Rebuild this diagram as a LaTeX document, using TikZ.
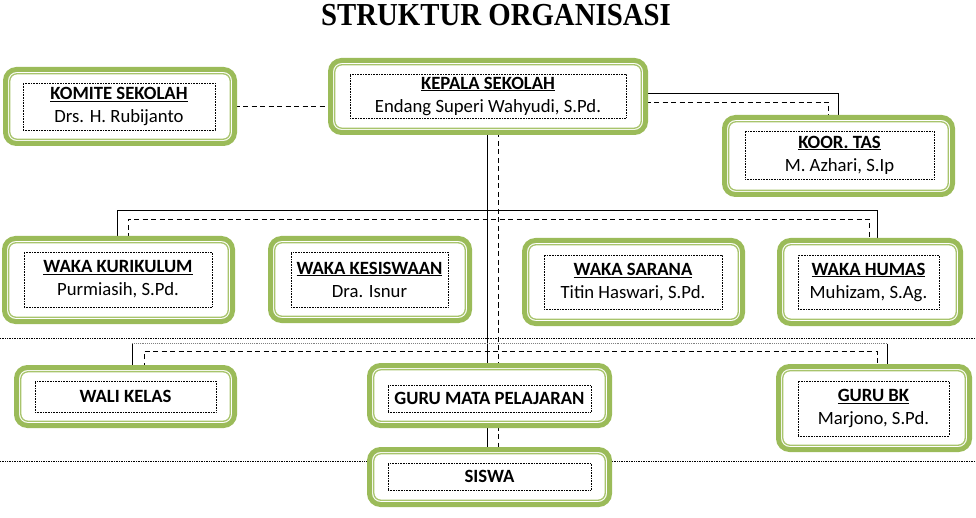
\documentclass[tikz,border=0pt]{standalone}
\usepackage{fontspec}
\setmainfont{Carlito}
\newfontfamily\titlefont{Liberation Serif}
\usetikzlibrary{fit,backgrounds}
\definecolor{gr}{HTML}{9BBB59}
\definecolor{grl}{HTML}{A8C46C}
\newcommand{\gbx}[5]{%
  \node[gouter, fit={(#2+2.5,#3+2.5)(#4-2.5,#5-2.5)}] (#1) {};
  \draw[ginner] ([shift={(4.3pt,4.3pt)}]#1.south west) rectangle ([shift={(-4.3pt,-4.3pt)}]#1.north east);}
\begin{document}
\begin{tikzpicture}[x=1pt,y=-1pt,
  gouter/.style={draw=gr, line width=5pt, rounded corners=11pt, fill=white, inner sep=0pt, outer sep=0pt},
  ginner/.style={draw=grl, line width=1.3pt, rounded corners=7pt},
  tb/.style={draw=black, densely dotted, line width=0.6pt, inner sep=0pt, align=center,
    font=\fontsize{18.7}{23}\selectfont, text=black},
  conn/.style={draw=black, line width=0.9pt},
  dsh/.style={draw=black, line width=0.9pt, dash pattern=on 5pt off 3.5pt},
  grayl/.style={draw=gray, line width=0.9pt, densely dotted},
  fullline/.style={draw=black, line width=0.7pt, densely dotted},
  ttl/.style={font=\titlefont\bfseries\fontsize{32}{36}\selectfont, inner sep=0pt, xscale=0.9}]
\useasboundingbox (0,0) rectangle (976,518);

% title
\node[ttl, anchor=base] (title) at (496,26) {STRUKTUR ORGANISASI};

% green boxes
\gbx{komite}{3}{67}{237}{146}
\gbx{kepala}{328}{58}{648}{135}
\gbx{koor}{722}{115}{955}{197}
\gbx{kur}{2}{236}{235}{324}
\gbx{kes}{268}{236}{472}{323}
\gbx{sar}{522}{238}{745}{326}
\gbx{hum}{777}{238}{963}{326}
\gbx{wali}{14}{365}{237}{428}
\gbx{guru}{367}{363}{612}{428}
\gbx{siswa}{367}{447}{612}{507}
\gbx{bk}{776}{364}{972}{452}

% texts
\node[tb, minimum width=192, minimum height=47] (komiteT) at (119,106.5) {\underline{\textbf{KOMITE SEKOLAH}}\\Drs. H. Rubijanto};
\node[tb, minimum width=276, minimum height=44] (kepalaT) at (488,96) {\underline{\textbf{KEPALA SEKOLAH}}\\Endang Superi Wahyudi, S.Pd.};
\node[tb, minimum width=189, minimum height=48] (koorT) at (839.5,155) {\underline{\textbf{KOOR. TAS}}\\M. Azhari, S.Ip};
\node[tb, minimum width=188, minimum height=55] (kurT) at (118,279.5) {\underline{\textbf{WAKA KURIKULUM}}\\Purmiasih, S.Pd.};
\node[tb, minimum width=157, minimum height=55] (kesT) at (369.5,279.5) {\underline{\textbf{WAKA KESISWAAN}}\\Dra. Isnur};
\node[tb, minimum width=178, minimum height=54] (sarT) at (633,282) {\underline{\textbf{WAKA SARANA}}\\Titin Haswari, S.Pd.};
\node[tb, minimum width=141, minimum height=54] (humT) at (868.5,282) {\underline{\textbf{WAKA HUMAS}}\\Muhizam, S.Ag.};
\node[tb, minimum width=181, minimum height=31] (waliT) at (125.5,396.5) {\textbf{WALI KELAS}};
\node[tb, minimum width=203, minimum height=27] (guruT) at (489.5,398.5) {\textbf{GURU MATA PELAJARAN}};
\node[tb, minimum width=203, minimum height=27] (siswaT) at (489.5,476.5) {\textbf{SISWA}};
\node[tb, minimum width=151, minimum height=55] (bkT) at (873.5,408.5) {\underline{\textbf{GURU BK}}\\Marjono, S.Pd.};

\begin{scope}[on background layer]
  \fill[white] (0,0) rectangle (976,518);
  % full-width dotted separators
  \draw[fullline] (0,338) -- (976,338);
  \draw[fullline] (0,461) -- (976,461);
  % komite - kepala
  \draw[dsh] (komite.east) -- (komite.east -| kepala.west);
  % kepala - koor
  \draw[conn] ([yshift=3.5pt]kepala.east) -| (koor.north);
  \draw[dsh] ([yshift=-5.5pt]kepala.east) -| ([xshift=-10pt]koor.north);
  % central verticals
  \coordinate (ks) at ([xshift=-1pt]kepala.south);
  \coordinate (kd) at ([xshift=10pt]kepala.south);
  \draw[conn] (ks) -- (ks |- guru.north);
  \draw[dsh] (kd) -- (kd |- guru.north);
  \draw[conn] (ks |- guru.south) -- (ks |- siswa.north);
  \draw[dsh] (kd |- guru.south) -- (kd |- siswa.north);
  % waka level
  \coordinate (wS) at (0,210.5);
  \coordinate (wD) at (0,219);
  \coordinate (kurS) at ([xshift=-1.5pt]kur.north);
  \coordinate (kurD) at ([xshift=9.5pt]kur.north);
  \coordinate (humS) at ([xshift=7pt]hum.north);
  \coordinate (humD) at ([xshift=-1pt]hum.north);
  \draw[conn] (kurS) -- (kurS |- wS) -- (humS |- wS) -- (humS);
  \draw[dsh] (kurD) -- (kurD |- wD) -- (humD |- wD) -- (humD);
  % lower level
  \coordinate (lS) at (0,343.5);
  \coordinate (lD) at (0,351);
  \coordinate (waliS) at ([xshift=6.5pt]wali.north);
  \coordinate (waliD) at ([xshift=18.5pt]wali.north);
  \coordinate (bkS) at ([xshift=13pt]bk.north);
  \coordinate (bkD) at ([xshift=3pt]bk.north);
  \draw[conn] (waliS) -- (waliS |- lS);
  \draw[grayl] (waliS |- lS) -- (bkS |- lS);
  \draw[conn] (bkS |- lS) -- (bkS);
  \draw[dsh] (waliD) -- (waliD |- lD) -- (bkD |- lD) -- (bkD);
\end{scope}
\end{tikzpicture}
\end{document}
